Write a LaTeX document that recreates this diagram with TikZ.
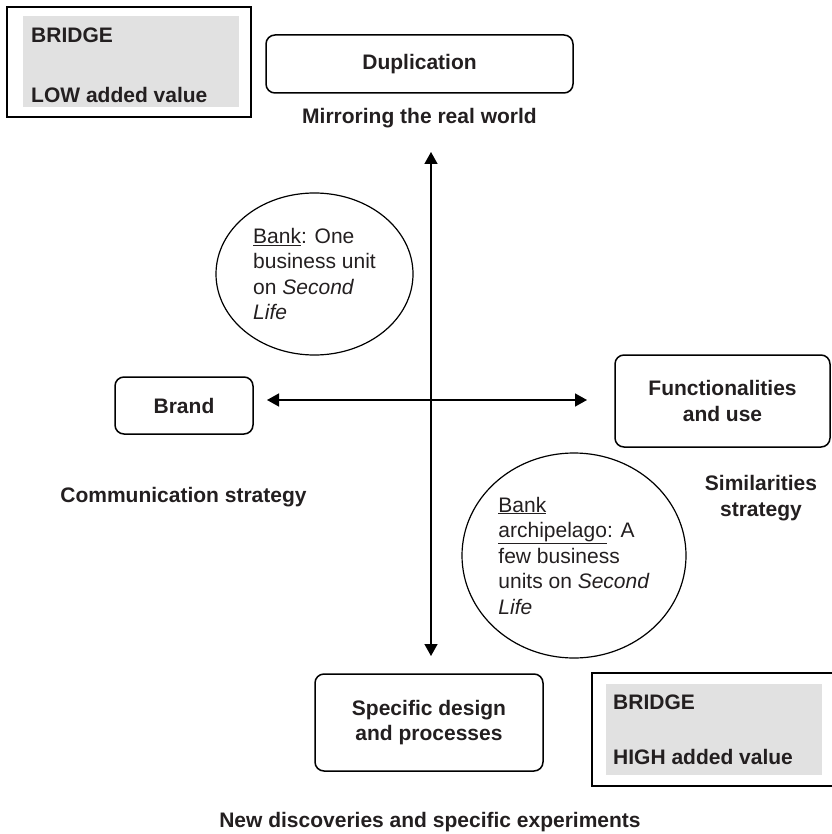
\documentclass[tikz,border=0pt]{standalone}
\usepackage{fontspec}
\setmainfont{Liberation Sans}
\usetikzlibrary{arrows.meta,shapes.geometric}
\definecolor{inkgray}{RGB}{35,31,32}
\definecolor{bridgegray}{RGB}{225,225,225}
\newcommand{\basefont}{\fontsize{21}{25.5}\selectfont}
\tikzset{
  box/.style={draw, rounded corners=9pt, line width=1.5pt, font=\basefont\bfseries, align=center, text=inkgray},
  label/.style={font=\basefont\bfseries, align=center, text=inkgray},
  bubble/.style={draw, ellipse, line width=1.2pt, inner sep=0pt, font=\basefont, align=left, text=inkgray},
  bridgeframe/.style={draw, line width=1.5pt, minimum width=244pt, minimum height=110pt},
  bridgefill/.style={fill=bridgegray, minimum width=216pt, minimum height=91pt},
  bridgetext/.style={font=\basefont\bfseries, anchor=west, inner sep=0pt, text=inkgray},
  axis/.style={line width=1.5pt, >={Triangle[length=12pt,width=13pt]}, <->},
}
\begin{document}
\begin{tikzpicture}[x=1pt, y=-1pt]
    \useasboundingbox (0,0) rectangle (831,834);
    % low value bridge
    \node[bridgeframe] (lowframe) at (129,62) {};
    \node[bridgefill] (lowfill) at (131,61.5) {};
    \node[bridgetext] (lowtop) at (31,35) {BRIDGE};
    \node[bridgetext] (lowbot) at (31,95) {LOW added value};
    % high value bridge
    \node[bridgeframe, minimum height=113pt] (highframe) at (714,729.5) {};
    \node[bridgefill] (highfill) at (714,729.5) {};
    \node[bridgetext] (hightop) at (613,702) {BRIDGE};
    \node[bridgetext] (highbot) at (613,757) {HIGH added value};
    % the four poles
    \node[box, minimum width=307pt, minimum height=58pt] (dup) at (419.5,64) {Duplication};
    \node[label] (mirror) at (419.5,118) {Mirroring the real world};
    \node[box, minimum width=138pt, minimum height=57pt] (brand) at (184,405.5) {Brand};
    \node[label] (comm) at (183.5,497) {Communication strategy};
    \node[box, minimum width=215pt, minimum height=92pt] (func) at (722.5,401) {Functionalities\\and use};
    \node[label] (simil) at (761,498) {Similarities\\strategy};
    \node[box, minimum width=228pt, minimum height=97pt] (spec) at (429,722.5) {Specific design\\and processes};
    \node[label] (newdisc) at (430,822) {New discoveries and specific experiments};
    % banks
    \node[bubble, minimum width=197pt, minimum height=162pt] (onebank) at (314.5,274)
      {\underline{Bank}: One\\business unit\\on \textit{Second}\\\textit{Life}};
    \node[bubble, minimum width=224pt, minimum height=205pt] (archbank) at (574,555.5)
      {\underline{Bank}\\\underline{archipelago}: A\\few business\\units on \textit{Second}\\\textit{Life}};
    % axes
    \coordinate (vtop) at (431,152);
    \coordinate (vbot) at (431,656);
    \coordinate (hleft) at (267,400);
    \coordinate (hright) at (587,400);
    \draw[axis] (vtop) -- (vbot);
    \draw[axis] (hleft) -- (hright);
  \end{tikzpicture}
\end{document}
